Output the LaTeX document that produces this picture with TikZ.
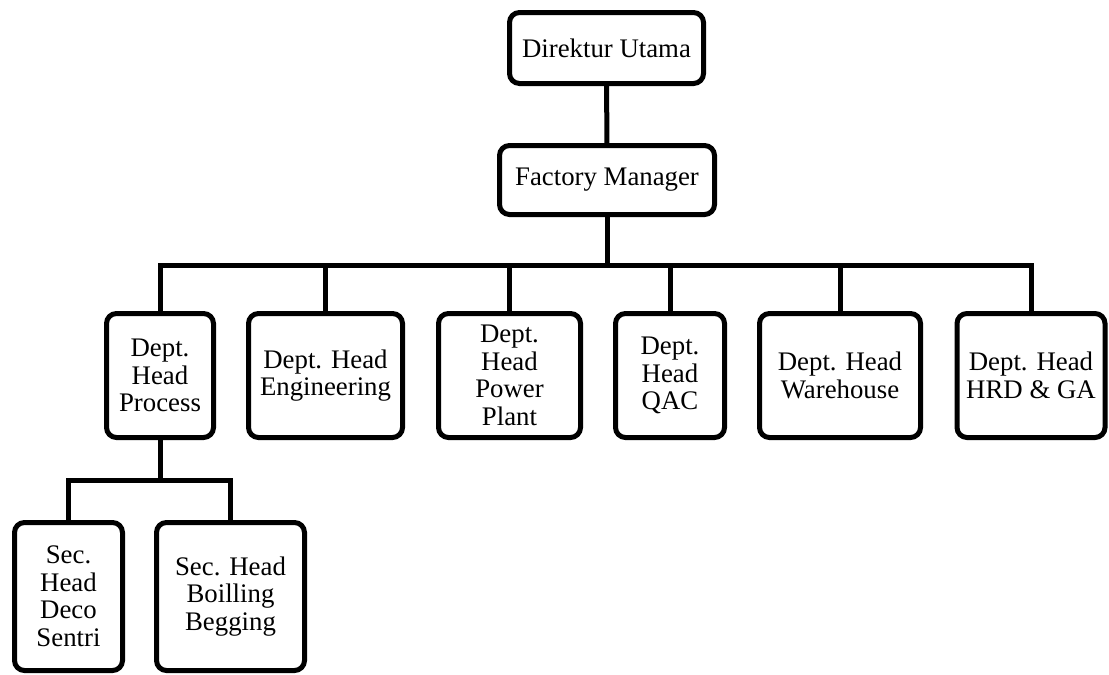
\documentclass[tikz,border=0pt]{standalone}
\usepackage{fontspec}
\setmainfont{Liberation Serif}
\usetikzlibrary{positioning, calc}
\tikzset{
  every picture/.style={line width=5pt},
  unit/.style={draw=black, fill=white, rounded corners=10pt, align=center, inner sep=0pt,
    font=\fontsize{26.8}{27.5}\selectfont, minimum width=#1},
  unit/.default=100pt,
  link/.style={draw=black, line width=5pt, line join=miter},
}
\begin{document}
\begin{tikzpicture}[x=1pt, y=-1pt]
  \useasboundingbox (0,0) rectangle (1109,675);
  % top
  \node[unit=194pt, minimum height=71pt] (dir) at (606.5,48) {Direktur Utama};
  \node[unit=215pt, minimum height=69pt] (fm) at (607,180) {Factory Manager};
  % departments
  \begin{scope}[every node/.append style={minimum height=124pt}]
    \node[unit=107pt] (proc) at (160,375.5) {Dept.\\Head\\Process};
    \node[unit=154pt] (eng) at (325.5,375.5) {Dept. Head\\Engineering};
    \node[unit=142pt] (pow) at (509.5,375.5) {Dept.\\Head\\Power\\Plant};
    \node[unit=109pt] (qac) at (670,375.5) {Dept.\\Head\\QAC};
    \node[unit=161pt] (ware) at (840,375.5) {Dept. Head\\Warehouse};
    \node[unit=148pt] (hrd) at (1031,375.5) {Dept. Head\\HRD \& GA};
  \end{scope}
  % sections
  \begin{scope}[every node/.append style={minimum height=148pt}]
    \node[unit=108pt] (deco) at (68.5,596.5) {Sec.\\Head\\Deco\\Sentri};
    \node[unit=148pt] (boil) at (230.5,596.5) {Sec. Head\\Boilling\\Begging};
  \end{scope}
  \coordinate (bus) at (607,265);
  \coordinate (sub) at (160,480);
  \draw[link] (dir) -- (fm);
  \foreach \d in {proc,eng,pow,qac,ware,hrd}
    \draw[link] (fm.south) |- (bus -| \d.north) -- (\d.north);
  \foreach \s in {deco,boil}
    \draw[link] (proc.south) |- (sub -| \s.north) -- (\s.north);
\end{tikzpicture}
\end{document}
